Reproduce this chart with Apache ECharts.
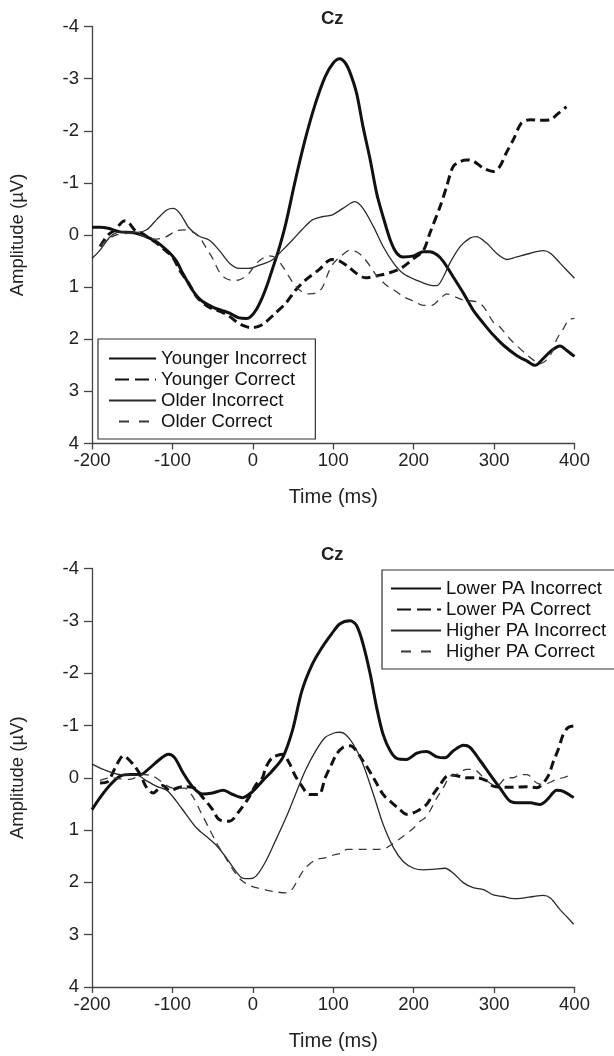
<!DOCTYPE html>
<html>
<head>
<meta charset="utf-8">
<title>Cz</title>
<script src="https://cdn.jsdelivr.net/npm/echarts@6/dist/echarts.min.js"></script>
<style>
  html, body { margin: 0; padding: 0; background: #fff; }
  #main { width: 614px; height: 1056px; }
</style>
</head>
<body>
<div id="main"></div>
<script>
// ERP waveforms at Cz, [time (ms), amplitude (µV)]
const youngerIncorrect = [[-200,-0.15],[-190,-0.15],[-180,-0.13],[-165,-0.06],[-150,-0.05],[-138,0.0],[-130,0.05],[-120,0.13],[-110,0.25],[-103,0.35],[-95,0.5],[-87,0.74],[-80,0.93],[-75,1.06],[-68,1.2],[-62,1.28],[-54,1.35],[-46,1.41],[-38,1.45],[-29,1.5],[-17,1.59],[-8,1.6],[-3,1.57],[4,1.44],[12,1.19],[18,0.95],[24,0.67],[32,0.29],[41,-0.22],[53,-1.06],[65,-1.83],[78,-2.53],[90,-3.04],[100,-3.3],[108,-3.38],[115,-3.3],[121,-3.11],[129,-2.72],[137,-2.08],[146,-1.44],[154,-0.8],[162,-0.35],[171,0.1],[179,0.35],[187,0.42],[200,0.4],[212,0.32],[220,0.32],[229,0.38],[237,0.51],[249,0.8],[262,1.12],[274,1.44],[287,1.7],[299,1.92],[312,2.12],[328,2.31],[341,2.42],[351,2.5],[361,2.37],[372,2.21],[382,2.13],[390,2.21],[400,2.33]]
const youngerCorrect = [[-190,0.22],[-180,0.0],[-171,-0.1],[-160,-0.27],[-155,-0.25],[-146,-0.08],[-138,-0.03],[-130,0.05],[-120,0.15],[-110,0.28],[-100,0.42],[-90,0.7],[-80,0.92],[-70,1.18],[-60,1.33],[-50,1.42],[-40,1.47],[-30,1.55],[-20,1.67],[-10,1.75],[-2,1.78],[8,1.75],[16,1.67],[28,1.5],[41,1.31],[53,1.06],[65,0.87],[82,0.67],[98,0.47],[108,0.5],[118,0.6],[129,0.74],[140,0.82],[158,0.77],[171,0.72],[185,0.63],[200,0.45],[212,0.3],[220,-0.03],[233,-0.55],[241,-0.93],[249,-1.31],[258,-1.41],[266,-1.44],[274,-1.42],[287,-1.28],[299,-1.22],[307,-1.31],[315,-1.57],[324,-1.83],[334,-2.15],[345,-2.21],[357,-2.2],[370,-2.21],[378,-2.31],[390,-2.46]]
const olderIncorrect = [[-200,0.45],[-190,0.29],[-177,0.03],[-165,-0.06],[-144,-0.05],[-132,-0.1],[-120,-0.29],[-107,-0.48],[-99,-0.51],[-91,-0.42],[-79,-0.13],[-66,0.03],[-54,0.1],[-42,0.29],[-29,0.54],[-17,0.64],[-5,0.64],[8,0.58],[24,0.48],[37,0.29],[49,0.1],[61,-0.1],[74,-0.29],[86,-0.35],[98,-0.38],[112,-0.51],[127,-0.64],[137,-0.51],[150,-0.16],[162,0.22],[175,0.54],[187,0.74],[204,0.87],[220,0.96],[229,0.97],[237,0.8],[245,0.54],[258,0.22],[270,0.06],[278,0.03],[291,0.16],[303,0.35],[316,0.47],[328,0.42],[345,0.35],[361,0.3],[370,0.35],[382,0.54],[400,0.83]]
const olderCorrect = [[-190,0.2],[-180,0.08],[-170,0.0],[-155,-0.03],[-140,0.0],[-124,0.08],[-110,0.05],[-95,-0.08],[-85,-0.1],[-75,-0.06],[-66,0.05],[-58,0.25],[-50,0.45],[-42,0.7],[-35,0.82],[-25,0.87],[-17,0.86],[-5,0.74],[4,0.55],[12,0.45],[20,0.4],[28,0.43],[37,0.6],[45,0.8],[53,0.98],[62,1.1],[70,1.13],[78,1.12],[86,1.02],[94,0.72],[100,0.55],[110,0.4],[121,0.29],[130,0.33],[137,0.42],[146,0.6],[152,0.74],[165,0.95],[175,1.05],[187,1.18],[200,1.27],[212,1.35],[222,1.35],[233,1.22],[241,1.13],[254,1.2],[262,1.25],[278,1.28],[287,1.38],[299,1.67],[307,1.76],[320,2.0],[328,2.12],[341,2.3],[349,2.4],[357,2.47],[365,2.4],[372,2.25],[378,2.0],[386,1.8],[393,1.63],[400,1.6]]

const lowerPaIncorrect = [[-200,0.61],[-190,0.38],[-177,0.13],[-165,-0.03],[-153,-0.06],[-140,-0.06],[-128,-0.19],[-116,-0.35],[-105,-0.45],[-97,-0.38],[-87,-0.1],[-74,0.19],[-62,0.31],[-50,0.29],[-37,0.24],[-25,0.32],[-13,0.38],[0,0.26],[12,0.06],[24,-0.13],[37,-0.38],[49,-0.89],[61,-1.66],[74,-2.17],[86,-2.49],[98,-2.75],[108,-2.94],[121,-3.0],[129,-2.91],[137,-2.56],[146,-1.98],[154,-1.34],[162,-0.83],[171,-0.51],[179,-0.37],[191,-0.35],[204,-0.47],[216,-0.5],[229,-0.4],[239,-0.38],[249,-0.51],[262,-0.62],[270,-0.58],[283,-0.32],[295,-0.06],[307,0.19],[320,0.45],[332,0.48],[345,0.48],[357,0.51],[366,0.42],[378,0.24],[386,0.26],[399,0.38]]
const lowerPaCorrect = [[-190,0.1],[-181,0.08],[-169,-0.26],[-161,-0.42],[-149,-0.26],[-140,-0.06],[-132,0.19],[-124,0.29],[-112,0.15],[-103,0.25],[-95,0.2],[-87,0.17],[-75,0.18],[-62,0.38],[-50,0.61],[-42,0.8],[-29,0.83],[-17,0.64],[-5,0.38],[4,0.13],[12,0.0],[16,-0.19],[24,-0.38],[37,-0.45],[45,-0.29],[53,-0.03],[61,0.16],[70,0.32],[82,0.32],[90,0.0],[98,-0.26],[104,-0.45],[112,-0.58],[121,-0.61],[137,-0.32],[150,0.0],[162,0.32],[171,0.45],[183,0.61],[191,0.7],[204,0.64],[216,0.51],[224,0.32],[233,0.13],[241,-0.03],[249,-0.05],[266,0.0],[278,0.0],[291,0.06],[299,0.16],[312,0.18],[324,0.18],[341,0.17],[353,0.19],[366,0.0],[374,-0.32],[380,-0.55],[386,-0.83],[392,-0.96],[399,-0.99]]
const higherPaIncorrect = [[-200,-0.26],[-186,-0.16],[-165,-0.06],[-144,-0.05],[-132,0.06],[-120,0.16],[-107,0.24],[-95,0.45],[-83,0.7],[-70,0.96],[-58,1.12],[-46,1.28],[-33,1.53],[-21,1.79],[-13,1.92],[-4,1.93],[4,1.88],[16,1.6],[28,1.21],[41,0.77],[53,0.32],[65,-0.13],[78,-0.51],[90,-0.77],[102,-0.86],[108,-0.87],[115,-0.83],[125,-0.64],[137,-0.26],[150,0.32],[162,0.89],[175,1.34],[187,1.6],[200,1.73],[212,1.76],[224,1.75],[239,1.73],[249,1.82],[262,2.01],[274,2.1],[287,2.14],[299,2.24],[311,2.27],[324,2.31],[336,2.3],[349,2.27],[361,2.25],[370,2.3],[382,2.52],[390,2.65],[399,2.8]]
const higherPaCorrect = [[-190,0.05],[-177,0.0],[-165,0.02],[-153,0.03],[-136,-0.06],[-124,-0.03],[-107,0.15],[-99,0.2],[-85,0.2],[-75,0.35],[-65,0.65],[-55,0.95],[-45,1.25],[-35,1.5],[-25,1.75],[-15,1.95],[-5,2.05],[4,2.1],[15,2.14],[28,2.18],[40,2.2],[48,2.15],[57,1.92],[65,1.73],[78,1.57],[90,1.53],[102,1.47],[110,1.44],[117,1.37],[129,1.37],[141,1.37],[154,1.37],[166,1.34],[175,1.25],[187,1.12],[200,0.96],[208,0.83],[214,0.77],[220,0.64],[229,0.38],[237,0.19],[245,-0.03],[253,-0.06],[266,-0.16],[274,-0.16],[291,0.06],[303,0.16],[316,0.0],[324,0.0],[332,-0.06],[341,-0.06],[353,0.1],[361,0.13],[378,0.03],[386,0.0],[397,-0.06]]

const topNames = ['Younger Incorrect', 'Younger Correct', 'Older Incorrect', 'Older Correct']
const bottomNames = ['Lower PA Incorrect', 'Lower PA Correct', 'Higher PA Incorrect', 'Higher PA Correct']

const FONT = '"Liberation Sans", Arial, Helvetica, sans-serif'

// line looks: thick solid, thick dashed, thin solid, thin dashed
// (legendDash = the longer dashes used in the key samples)
const looks = [
  { color: '#111', width: 3, type: 'solid' },
  { color: '#111', width: 3, type: [9, 5], legendDash: [14, 6], legendOffset: 14 },
  { color: '#2a2a2a', width: 1.3, type: 'solid' },
  { color: '#3a3a3a', width: 1.3, type: [8, 6], legendDash: [10, 10], legendOffset: 10 }
]

const grids = [
  { left: 90, top: 26.5, width: 484.5, height: 417 },
  { left: 90, top: 568.5, width: 484.5, height: 418.5 }
]

const xAxisOf = (gridIndex) => ({
  type: 'value',
  gridIndex,
  min: -200,
  max: 400,
  interval: 100,
  name: 'Time (ms)',
  nameLocation: 'middle',
  nameGap: 44,
  nameTextStyle: { fontSize: 20, color: '#222', fontFamily: FONT },
  axisLine: { onZero: false, lineStyle: { color: '#444', width: 1.3 } },
  axisTick: { length: 6, lineStyle: { color: '#444', width: 1.3 } },
  axisLabel: { fontSize: 18.5, color: '#222', fontFamily: FONT, margin: 8 },
  splitLine: { show: false }
})

const yAxisOf = (gridIndex) => ({
  type: 'value',
  gridIndex,
  inverse: true,
  min: -4,
  max: 4,
  interval: 1,
  name: 'Amplitude (µV)',
  nameLocation: 'middle',
  nameGap: 65,
  nameTextStyle: { fontSize: 18.5, color: '#222', fontFamily: FONT },
  axisLine: { show: true, onZero: false, lineStyle: { color: '#444', width: 1.3 } },
  axisTick: { show: true, length: 8, lineStyle: { color: '#444', width: 1.3 } },
  axisLabel: { fontSize: 18.5, color: '#222', fontFamily: FONT, margin: 13 },
  splitLine: { show: false }
})

const lineSeries = (name, data, look, idx) => ({
  name,
  type: 'line',
  xAxisIndex: idx,
  yAxisIndex: idx,
  data,
  symbol: 'none',
  smooth: 0.3,
  lineStyle: { color: look.color, width: look.width, type: look.type },
  itemStyle: { color: look.color },
  emphasis: { disabled: true }
})

const legendItems = (names) => names.map((name, i) => {
  const look = looks[i]
  const item = { name }
  if (look.legendDash) {
    item.lineStyle = { type: look.legendDash, dashOffset: look.legendOffset }
  }
  return item
})

const legendOf = (names, left, top, padding, itemWidth) => ({
  data: legendItems(names),
  orient: 'vertical',
  left,
  top,
  padding,
  itemGap: 2,
  itemWidth,
  itemHeight: 14,
  selectedMode: false,
  backgroundColor: '#fff',
  borderColor: '#333',
  borderWidth: 1.2,
  // hide the marker dot, keep the line sample
  itemStyle: { opacity: 0 },
  textStyle: { fontSize: 18.5, lineHeight: 18, color: '#111', fontFamily: FONT }
})

const chart = echarts.init(document.getElementById('main'), null, { renderer: 'canvas' })

chart.setOption({
  animation: false,
  backgroundColor: '#fff',
  textStyle: { fontFamily: FONT },
  title: [
    { text: 'Cz', left: 321, top: 9, padding: 0, textStyle: { fontSize: 18.5, fontWeight: 'bold', color: '#222', fontFamily: FONT } },
    { text: 'Cz', left: 321, top: 545, padding: 0, textStyle: { fontSize: 18.5, fontWeight: 'bold', color: '#222', fontFamily: FONT } }
  ],
  legend: [
    legendOf(topNames, 98, 339, [10, 9, 8, 10], 47),
    legendOf(bottomNames, 382, 570, [9, 9, 8, 8], 50)
  ],
  grid: grids,
  xAxis: [xAxisOf(0), xAxisOf(1)],
  yAxis: [yAxisOf(0), yAxisOf(1)],
  series: [
    lineSeries(topNames[0], youngerIncorrect, looks[0], 0),
    lineSeries(topNames[1], youngerCorrect, looks[1], 0),
    lineSeries(topNames[2], olderIncorrect, looks[2], 0),
    lineSeries(topNames[3], olderCorrect, looks[3], 0),
    lineSeries(bottomNames[0], lowerPaIncorrect, looks[0], 1),
    lineSeries(bottomNames[1], lowerPaCorrect, looks[1], 1),
    lineSeries(bottomNames[2], higherPaIncorrect, looks[2], 1),
    lineSeries(bottomNames[3], higherPaCorrect, looks[3], 1)
  ]
})
</script>
</body>
</html>
